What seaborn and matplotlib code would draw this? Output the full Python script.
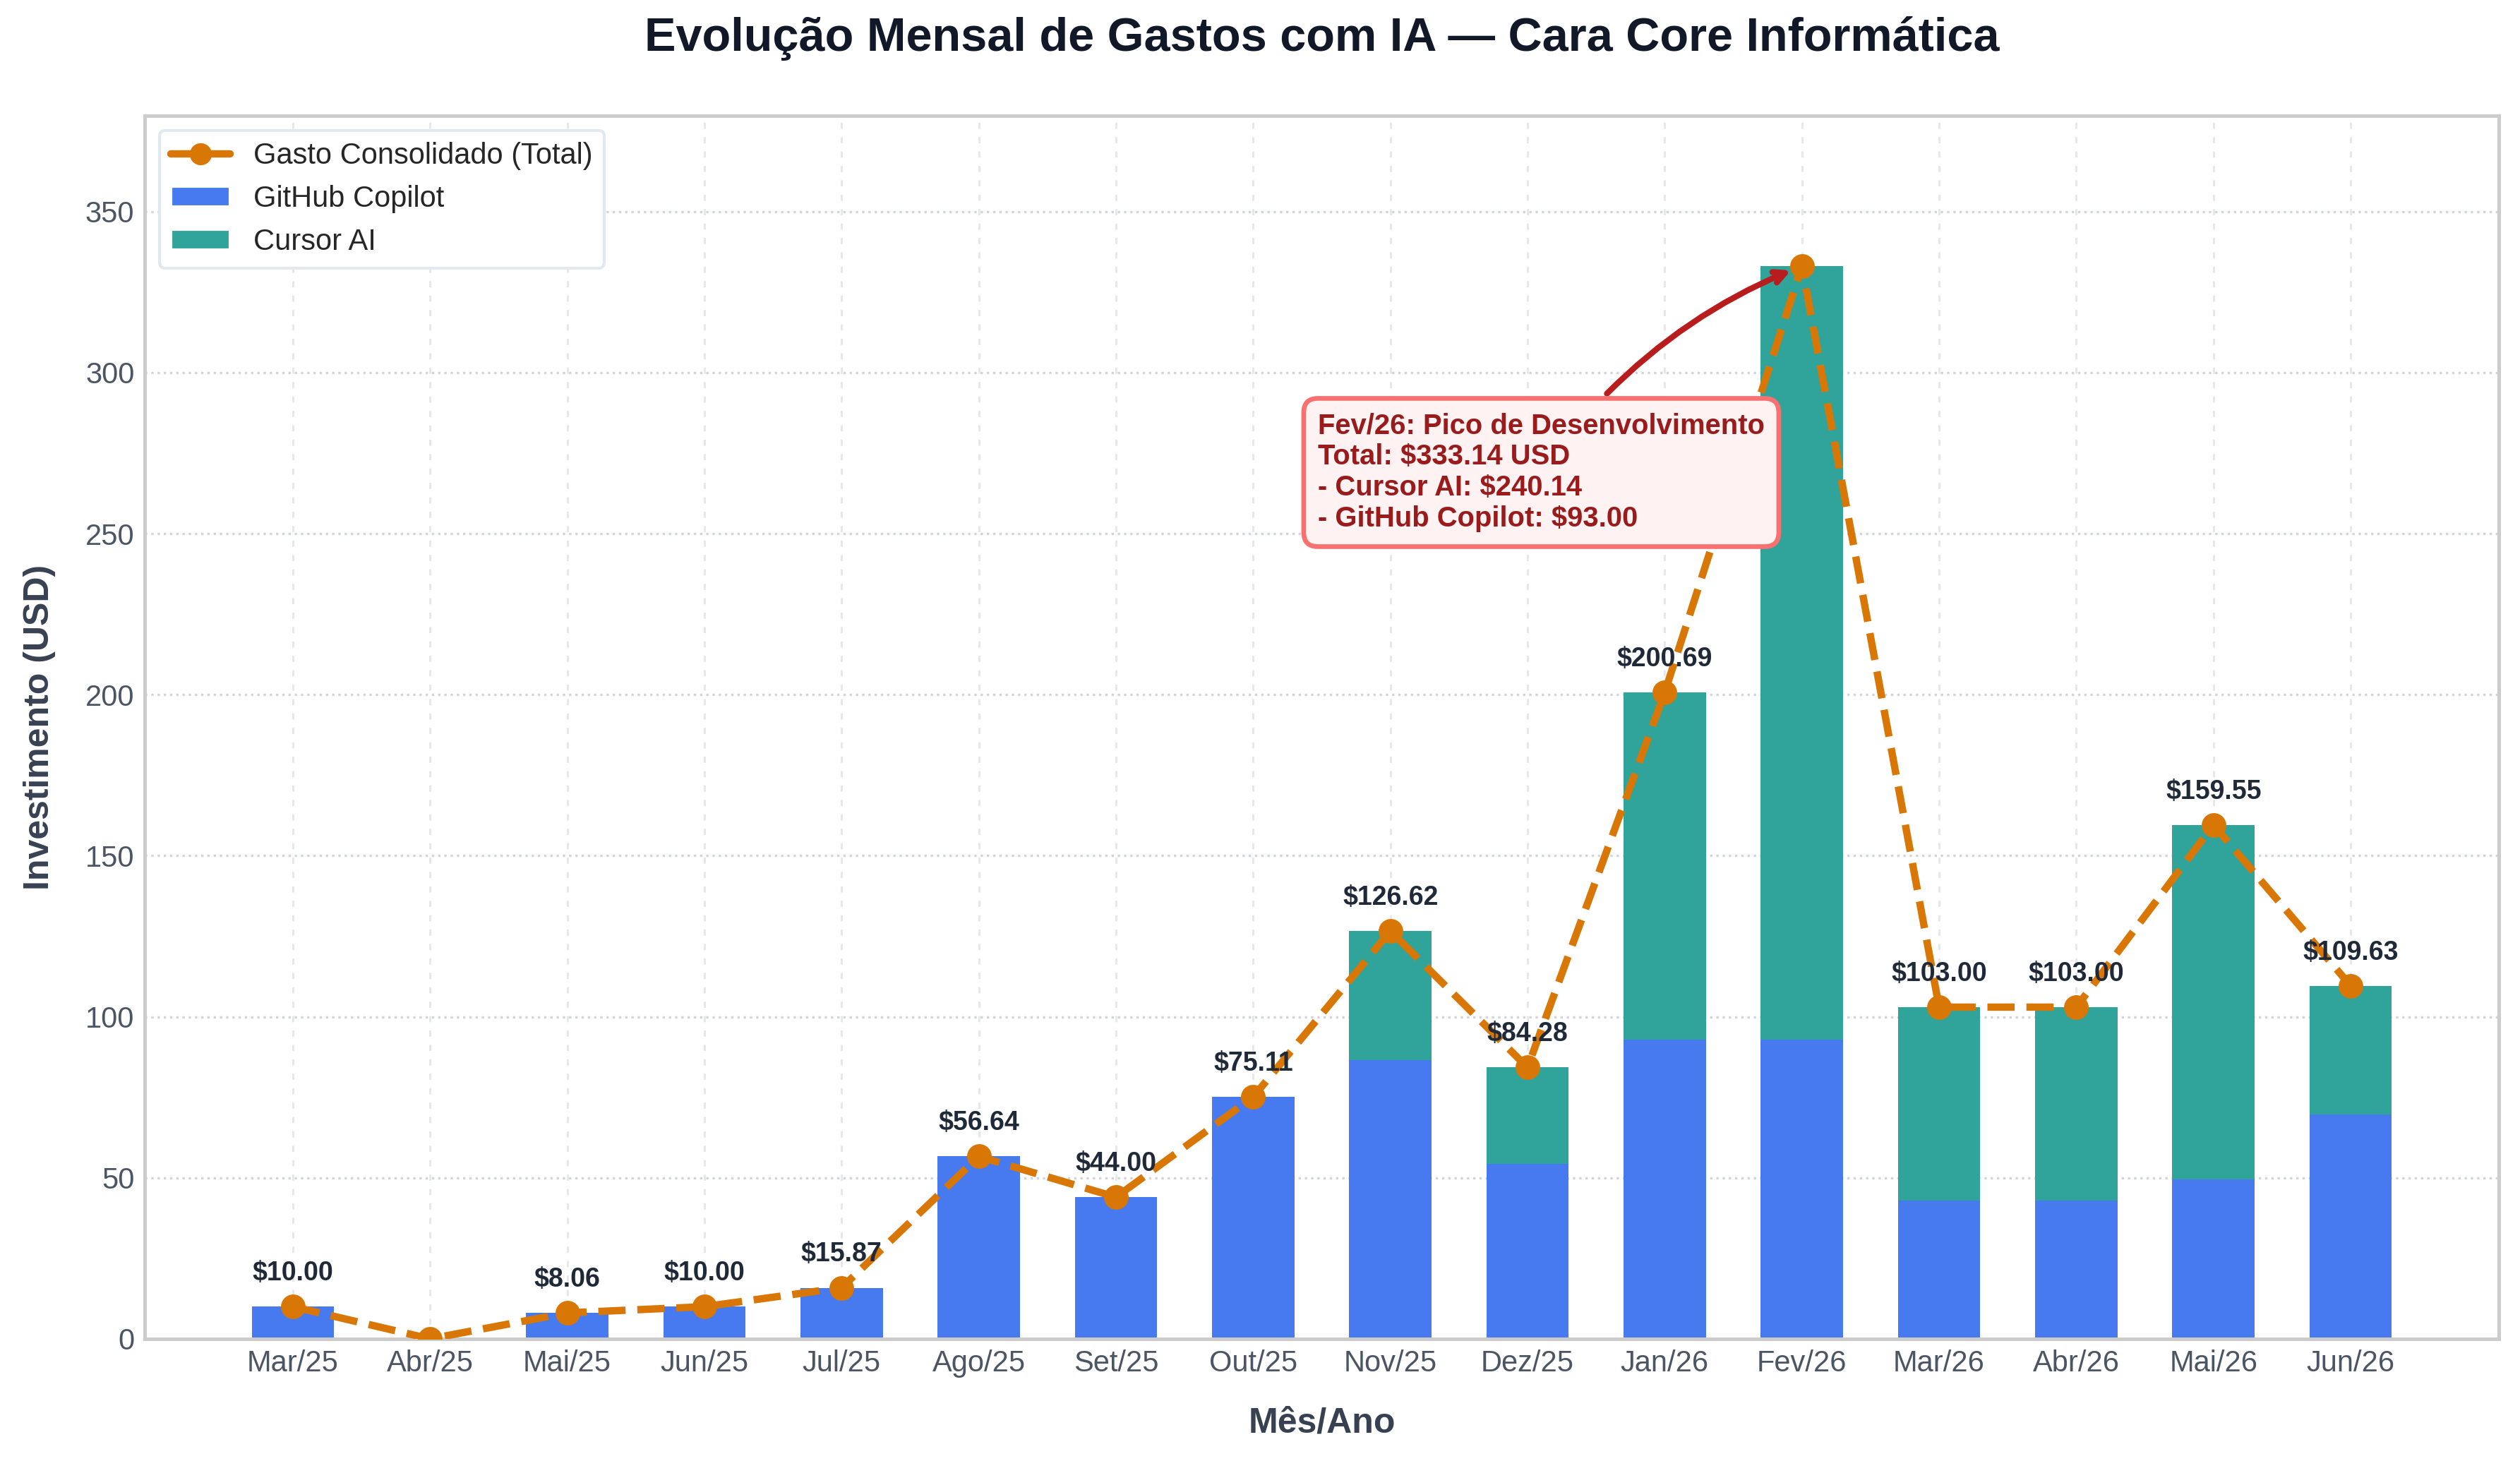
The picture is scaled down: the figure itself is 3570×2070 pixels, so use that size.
import numpy as np
import pandas as pd
import matplotlib
matplotlib.use("Agg")
import matplotlib.pyplot as plt
import seaborn as sns
from matplotlib.lines import Line2D
from matplotlib.patches import Patch

months = ["Mar/25", "Abr/25", "Mai/25", "Jun/25", "Jul/25", "Ago/25", "Set/25", "Out/25",
          "Nov/25", "Dez/25", "Jan/26", "Fev/26", "Mar/26", "Abr/26", "Mai/26", "Jun/26"]
copilot = [10.00, 0.00, 8.06, 10.00, 15.87, 56.64, 44.00, 75.11,
           86.62, 54.28, 93.00, 93.00, 43.00, 43.00, 49.55, 69.63]
cursor = [0.00, 0.00, 0.00, 0.00, 0.00, 0.00, 0.00, 0.00,
          40.00, 30.00, 107.69, 240.14, 60.00, 60.00, 110.00, 40.00]

total = [round(a + b, 2) for a, b in zip(copilot, cursor)]
df = pd.DataFrame({"Mes": months, "Copilot": copilot, "Cursor": cursor, "Total": total})

BLUE = "#467AEE"
TEAL = "#30A49A"
ORANGE = "#d97706"

sns.set_theme(style="whitegrid")
plt.rcParams["font.family"] = ["Liberation Sans", "DejaVu Sans"]

fig, ax = plt.subplots(figsize=(11.9, 6.9), dpi=300)
fig.subplots_adjust(left=0.0574, right=0.9916, top=0.9208, bottom=0.0836)

# stacked bars: total (teal) underneath, copilot (blue) on top of it
sns.barplot(data=df, x="Mes", y="Total", color=TEAL, saturation=1, width=0.6,
            linewidth=0, edgecolor="none", ax=ax, zorder=2)
sns.barplot(data=df, x="Mes", y="Copilot", color=BLUE, saturation=1, width=0.6,
            linewidth=0, edgecolor="none", ax=ax, zorder=2)

sns.pointplot(data=df, x="Mes", y="Total", color=ORANGE, linestyles="--", markers="o",
              markersize=6.5, linewidth=2.5, ax=ax, zorder=4)

n = len(months)
ax.set_xlim(-1.08, n - 1 + 1.08)
ax.set_ylim(0, max(total) * 1.14)
ax.set_yticks(np.arange(0, 351, 50))

ax.grid(True, axis="y", linestyle=":", color="#d1d5db", linewidth=0.8)
ax.grid(True, axis="x", linestyle=(0, (3, 4)), color="#e5e7eb", linewidth=0.7)
ax.set_axisbelow(True)
for s in ax.spines.values():
    s.set_color("#cccccc")
    s.set_linewidth(1.2)

ax.tick_params(axis="both", labelsize=10, colors="#4b5563", length=0)
ax.set_xlabel("Mês/Ano", fontsize=12, fontweight="bold", color="#374151", labelpad=10)
ax.set_ylabel("Investimento (USD)", fontsize=12, fontweight="bold", color="#374151", labelpad=10)
ax.set_title("Evolução Mensal de Gastos com IA — Cara Core Informática",
             fontsize=16, fontweight="bold", color="#111827", pad=22)

peak = int(np.argmax(total))
for i, t in enumerate(total):
    if t > 0 and i != peak:
        ax.annotate(f"${t:.2f}", xy=(i, t), xytext=(0, 7), textcoords="offset points",
                    ha="center", va="bottom", fontsize=9, fontweight="bold", color="#1f2937", zorder=5)

ann_text = (f"{months[peak]}: Pico de Desenvolvimento\n"
            f"Total: ${total[peak]:.2f} USD\n"
            f"- Cursor AI: ${cursor[peak]:.2f}\n"
            f"- GitHub Copilot: ${copilot[peak]:.2f}")
ax.annotate(ann_text, xy=(peak, total[peak]), xytext=(9.1, 269),
            ha="center", va="center", multialignment="left",
            fontsize=9.6, fontweight="bold", color="#991b1b",
            bbox=dict(boxstyle="round,pad=0.5", fc="#fef2f2", ec="#f87171", lw=1.6),
            arrowprops=dict(arrowstyle="->", color="#b91c1c", lw=2,
                            connectionstyle="arc3,rad=-0.15", shrinkB=4),
            zorder=6)

handles = [
    Line2D([0], [0], color=ORANGE, lw=2.5, marker="o", markersize=6.5),
    Patch(facecolor=BLUE),
    Patch(facecolor=TEAL),
]
labels = ["Gasto Consolidado (Total)", "GitHub Copilot", "Cursor AI"]
leg = ax.legend(handles, labels, loc="upper left", fontsize=10, frameon=True,
                fancybox=True, framealpha=1, edgecolor="#e2e8f0")

fig.savefig("out.png", dpi=300)
